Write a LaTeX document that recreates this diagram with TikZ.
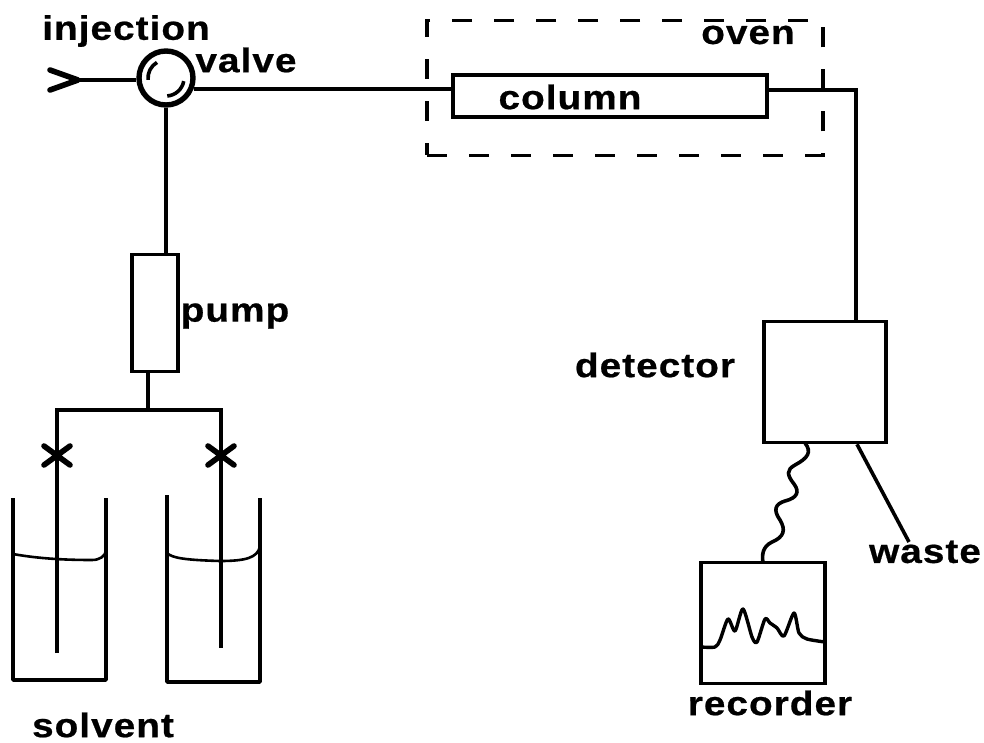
\documentclass[tikz,border=0pt]{standalone}
\usepackage{fontspec}
\newfontfamily\labfont[LetterSpace=3.0,FakeStretch=1.14,FakeBold=0.6]{Liberation Sans}
\tikzset{
    unit/.style={draw,line width=1.8pt,inner sep=0pt},
    tube/.style={line width=1.8pt},
    label/.style={font=\labfont\bfseries\fontsize{17}{19}\selectfont,inner sep=0pt}
}

\begin{document}
\begin{tikzpicture}[x=0.5pt,y=-0.5pt]
    \useasboundingbox (0,0) rectangle (984,743);
    % coordinates
    \coordinate (inlet) at (78,80);
    \coordinate (tee) at (148,410);
    \coordinate (teeleft) at (57,410);
    \coordinate (teeright) at (221,410);
    \coordinate (dipleft) at (57,653);
    \coordinate (dipright) at (221,648);
    \coordinate (bend) at (856,90);
    \coordinate (wavestart) at (805,443);
    \coordinate (drain) at (909,542);
    % units
    \node[unit,circle,minimum size=27pt,line width=2.7pt] (valve) at (166,78) {};
    \node[unit,minimum width=23pt,minimum height=58.5pt] (pump) at (155,313) {};
    \node[unit,minimum width=157pt,minimum height=21pt] (column) at (610,96) {};
    \node[draw,tube,dash pattern=on 10pt off 11pt,minimum width=198pt,minimum height=67.5pt] (oven) at (625,88) {};
    \node[unit,minimum width=61pt,minimum height=60.5pt] (detector) at (825,382) {};
    \node[unit,minimum width=62pt,minimum height=60.5pt] (recorder) at (763,623) {};
    % labels
    \node[label] (injectionlabel) at (126,31) {injection};
    \node[label] (valvelabel) at (246,60) {valve};
    \node[label] (pumplabel) at (235,316) {pump};
    \node[label] (columnlabel) at (570,97) {column};
    \node[label] (ovenlabel) at (748,35) {oven};
    \node[label] (detectorlabel) at (655,365) {detector};
    \node[label] (wastelabel) at (925,552) {waste};
    \node[label] (recorderlabel) at (770,703) {recorder};
    \node[label] (solventlabel) at (103,725) {solvent};
    % inlet and valve
    \draw[tube] (inlet) -- (inlet -| valve.west);
    \draw[line width=2.8pt,line cap=round,line join=round] (50,70) -- (inlet) -- (50,90);
    \draw[tube] ([shift={(120:9pt)}]valve.center) arc (120:186:9pt);
    \draw[tube] ([shift={(-10:9pt)}]valve.center) arc (-10:-86:9pt);
    % tubing
    \draw[tube] (valve.-22) -- (valve.-22 -| column.west);
    \draw[tube] (valve.south) -- (valve.south |- pump.north);
    \draw[tube] (tee |- pump.south) -- (tee);
    \draw[tube] (dipleft) -- (teeleft) -- (teeright) -- (dipright);
    \draw[tube] (bend -| column.east) -- (bend) -- (bend |- detector.north);
    \draw[tube] (drain |- detector.south) ++(-52,0) -- (drain);
    % valves on the lines
    \foreach \cx in {57,221}
        \draw[line width=2.8pt,line cap=round] (\cx-13,446) -- (\cx+13,465) (\cx-13,465) -- (\cx+13,446);
    % beakers
    \draw[tube,line join=round] (13,498) -- (13,680) -- (106,680) -- (106,498);
    \draw[tube,line join=round] (167,495) -- (167,682) -- (260,682) -- (260,498);
    \draw[line width=1.3pt] (13,554) .. controls (35,558) and (60,560) .. (92,560) .. controls (100,560) and (105,556) .. (106,551);
    \draw[line width=1.3pt] (167,553) .. controls (172,558) and (185,560) .. (220,561) .. controls (245,561) and (258,558) .. (260,546);
    % signal
    \draw[tube] (wavestart) .. controls (812,452) and (808,458) .. (795,465)
        .. controls (786,470) and (787,475) .. (794,484)
        .. controls (800,492) and (797,498) .. (785,501)
        .. controls (775,504) and (773,510) .. (780,520)
        .. controls (786,530) and (784,537) .. (772,542)
        .. controls (762,547) and (762,555) .. (763,563);
    % trace
    \draw[line width=1.7pt,line join=round] plot[smooth,tension=0.45] coordinates {
        (701,647) (715,647) (720,640) (728,619) (735,631) (743,609) (752,637)
        (757,642) (765,619) (770,623) (777,628) (784,636) (794,613) (799,633)
        (807,639) (825,642)};
\end{tikzpicture}
\end{document}
